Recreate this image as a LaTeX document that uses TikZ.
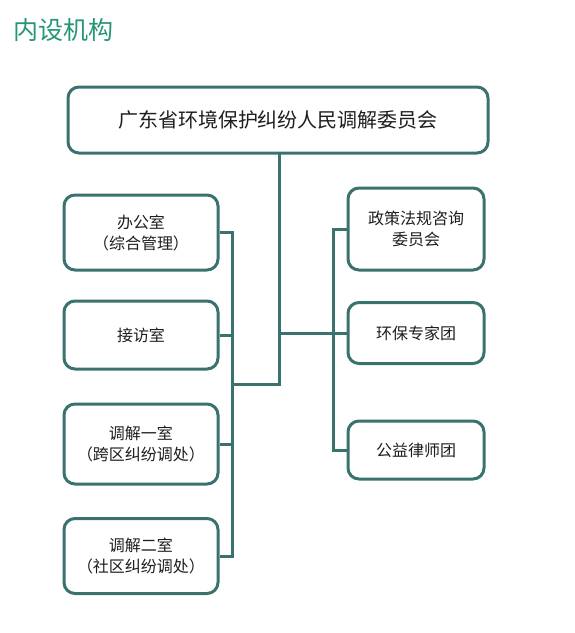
\documentclass[tikz,border=0pt]{standalone}
\usepackage{fontspec}
\setmainfont{Noto Sans CJK SC}
\definecolor{teal1}{RGB}{58,114,112}
\definecolor{titlegreen}{RGB}{38,150,120}
\definecolor{txt}{RGB}{30,30,30}
\begin{document}
\begin{tikzpicture}[x=1pt,y=-1pt,
  box/.style={draw=teal1,line width=3pt,rounded corners=11pt,fill=white,align=center,text=txt,inner sep=0pt},
  conn/.style={draw=teal1,line width=3pt,line join=miter},
  small/.style={font=\fontsize{16}{21}\selectfont}]
\useasboundingbox (0,0) rectangle (574,633);
\node[text=titlegreen,font=\fontsize{25}{30}\selectfont,anchor=west] (title) at (10,30) {内设机构};
\node[box,minimum width=420pt,minimum height=66pt,font=\fontsize{20}{24}\selectfont] (top) at (278,120) {广东省环境保护纠纷人民调解委员会};
% left column
\node[box,small,minimum width=154pt,minimum height=75pt] (L1) at (141,232.5) {办公室\\（综合管理）};
\node[box,small,minimum width=154pt,minimum height=68pt] (L2) at (141,335) {接访室};
\node[box,small,minimum width=154pt,minimum height=80pt] (L3) at (141,444) {调解一室\\（跨区纠纷调处）};
\node[box,small,minimum width=154pt,minimum height=75pt] (L4) at (141,556) {调解二室\\（社区纠纷调处）};
% right column
\node[box,small,minimum width=136pt,minimum height=82pt] (R1) at (416,229) {政策法规咨询\\委员会};
\node[box,small,minimum width=136pt,minimum height=61pt] (R2) at (416,333) {环保专家团};
\node[box,small,minimum width=136pt,minimum height=58pt] (R3) at (416,450) {公益律师团};
% bus coordinates
\coordinate (tt) at (279,152);
\coordinate (tm) at (279,333);
\coordinate (tb) at (279,384);
\coordinate (lb) at (232,384);
\coordinate (rb) at (333,333);
% trunk
\draw[conn] (tt) -- (tb) -- (lb);
\draw[conn] (tm) -- (R2.west);
% left bus
\draw[conn] (L1.east) -- (L1.east -| lb) -- (L4.east -| lb) -- (L4.east);
\draw[conn] (L2.east) -- (L2.east -| lb);
\draw[conn] (L3.east) -- (L3.east -| lb);
% right bus
\draw[conn] (R1.west) -- (R1.west -| rb) -- (R3.west -| rb) -- (R3.west);
\end{tikzpicture}
\end{document}
